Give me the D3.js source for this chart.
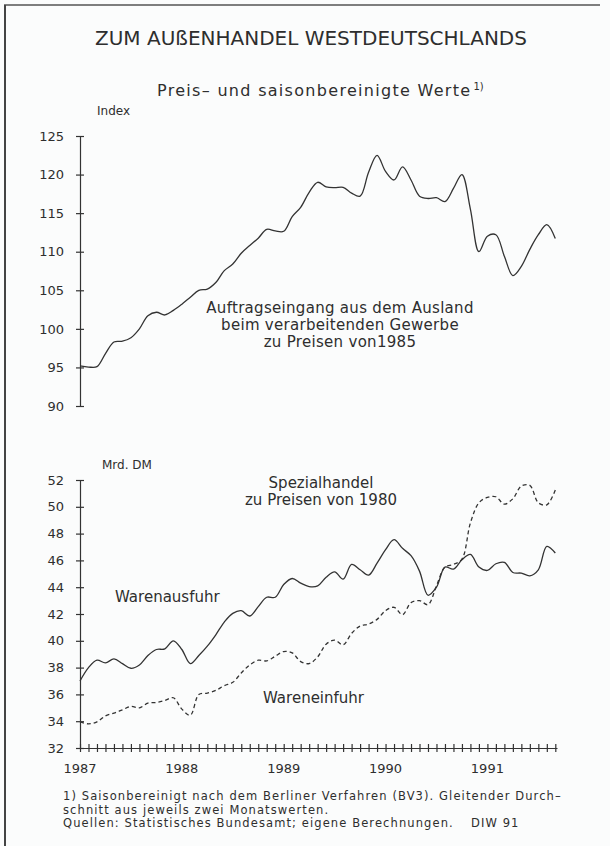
<!DOCTYPE html>
<html>
<head>
<meta charset="utf-8">
<script src="https://cdn.jsdelivr.net/npm/d3@7"></script>
<style>
  body { margin: 0; background: #fbfcfc; }
  svg { display: block; }
  text { font-family: "DejaVu Sans", sans-serif; fill: #2e2e2e; }
  .axis path, .axis line { stroke: #333; stroke-width: 1.2; }
  .line { fill: none; stroke: #333; stroke-width: 1.3; }
</style>
</head>
<body>
<svg width="610" height="846"></svg>
<script>
// monthly values, jan 1987 - sep 1991
const auftrag = [
  95.2, 95.05, 95.1, 96.8, 98.3, 98.4, 98.85, 100.0, 101.7, 102.15, 101.8, 102.4,
  103.2, 104.1, 105.0, 105.15, 106.0, 107.55, 108.4, 109.8, 110.8, 111.75, 112.9, 112.7,
  112.65, 114.55, 115.75, 117.7, 119.0, 118.4, 118.3, 118.35, 117.6, 117.2, 120.3, 122.5,
  120.4, 119.3, 121.0, 119.3, 117.2, 116.9, 117.0, 116.5, 118.2, 120.0, 115.5, 110.0,
  112.0, 112.2, 109.4, 106.9, 108.1, 110.3, 112.2, 113.5, 111.7
];
const ausfuhr = [
  37.0, 38.0, 38.55, 38.35, 38.65, 38.3, 37.95, 38.2, 38.9, 39.35, 39.4, 40.0,
  39.35, 38.3, 38.9, 39.6, 40.45, 41.4, 42.05, 42.25, 41.85, 42.55, 43.25, 43.25,
  44.2, 44.65, 44.3, 44.05, 44.1, 44.75, 45.15, 44.6, 45.7, 45.3, 44.9, 45.8,
  46.8, 47.55, 46.9, 46.35, 45.2, 43.4, 44.0, 45.5, 45.35, 46.05, 46.45, 45.5,
  45.25, 45.75, 45.85, 45.1, 45.05, 44.85, 45.3, 47.05, 46.55
];
const einfuhr = [
  33.95, 33.8, 33.95, 34.4, 34.6, 34.85, 35.1, 35.0, 35.35, 35.4, 35.55, 35.75,
  34.9, 34.45, 36.0, 36.1, 36.3, 36.65, 36.9, 37.6, 38.2, 38.55, 38.5, 38.85,
  39.2, 39.1, 38.45, 38.3, 38.8, 39.75, 40.05, 39.7, 40.55, 41.1, 41.25, 41.6,
  42.25, 42.5, 41.95, 42.85, 43.0, 42.7, 44.1, 45.5, 45.7, 46.1, 48.8, 50.3,
  50.7, 50.75, 50.2, 50.6, 51.55, 51.6, 50.3, 50.15, 51.25
];
const years = ["1987", "1988", "1989", "1990", "1991"];
const topTicks = [90, 95, 100, 105, 110, 115, 120, 125];
const bottomTicks = [32, 34, 36, 38, 40, 42, 44, 46, 48, 50, 52];

const svg = d3.select("svg");

// page border of the scan
svg.append("line").attr("x1", 4).attr("x2", 600).attr("y1", 5).attr("y2", 5)
  .attr("stroke", "#555").attr("stroke-width", 1.5);
svg.append("line").attr("x1", 5).attr("x2", 5).attr("y1", 5).attr("y2", 846)
  .attr("stroke", "#444").attr("stroke-width", 2);

// scales
const x = d3.scaleLinear().domain([0, 56.2]).range([80, 557]);
const yTop = d3.scaleLinear().domain([90, 125]).range([406, 136]);
const yBot = d3.scaleLinear().domain([32, 52]).range([748, 480]);

const line = (yScale) => d3.line()
  .curve(d3.curveCatmullRom.alpha(0.5))
  .x((d, i) => x(i))
  .y(d => yScale(d));

// titles
svg.append("text").attr("x", 311).attr("y", 45).attr("text-anchor", "middle")
  .style("font-size", "20px").text("ZUM AUßENHANDEL WESTDEUTSCHLANDS");
const sub = svg.append("text").attr("x", 157).attr("y", 96)
  .style("font-size", "16px").style("letter-spacing", "1.3px");
sub.append("tspan").text("Preis– und saisonbereinigte Werte");
sub.append("tspan").attr("dx", 2).attr("dy", -6).style("font-size", "10px")
  .style("letter-spacing", "0px").text("1)");

// top chart
svg.append("text").attr("x", 97).attr("y", 115).style("font-size", "12px").text("Index");

const leftTop = svg.append("g").attr("class", "axis")
  .attr("transform", "translate(80,0)")
  .call(d3.axisLeft(yTop).tickValues(topTicks).tickSize(4).tickSizeOuter(0).tickPadding(12));
leftTop.selectAll(".tick line").attr("x1", 4);
leftTop.selectAll(".tick text").style("font-size", "13px").attr("fill", "#2e2e2e");

svg.append("path").datum(auftrag).attr("class", "line").attr("d", line(yTop));

const noteTop = svg.append("text").attr("text-anchor", "middle")
  .style("font-size", "15px").style("letter-spacing", "0.3px");
["Auftragseingang aus dem Ausland", "beim verarbeitenden Gewerbe", "zu Preisen von1985"]
  .forEach((t, i) => noteTop.append("tspan").attr("x", 340).attr("y", 313 + i * 17).text(t));

// bottom chart
svg.append("text").attr("x", 102).attr("y", 469).style("font-size", "12px").text("Mrd. DM");

const leftBot = svg.append("g").attr("class", "axis")
  .attr("transform", "translate(80,0)")
  .call(d3.axisLeft(yBot).tickValues(bottomTicks).tickSize(4).tickSizeOuter(0).tickPadding(12));
leftBot.selectAll(".tick line").attr("x1", 4);
leftBot.selectAll(".tick text").style("font-size", "13px").attr("fill", "#2e2e2e");

const bottom = svg.append("g").attr("class", "axis")
  .attr("transform", "translate(0,748)")
  .call(d3.axisBottom(x).tickValues(d3.range(0, 57)).tickFormat("").tickSize(4).tickSizeOuter(0));
bottom.selectAll(".tick line").attr("y1", -4);

svg.selectAll(".year").data(years).enter().append("text")
  .attr("class", "year")
  .attr("x", (d, i) => x(i * 12))
  .attr("y", 773)
  .attr("text-anchor", "middle")
  .style("font-size", "13px")
  .text(d => d);

svg.append("path").datum(ausfuhr).attr("class", "line").attr("d", line(yBot));
svg.append("path").datum(einfuhr).attr("class", "line")
  .attr("stroke-dasharray", "4,3").attr("d", line(yBot));

const noteBot = svg.append("text").attr("text-anchor", "middle").style("font-size", "15px");
["Spezialhandel", "zu Preisen von 1980"]
  .forEach((t, i) => noteBot.append("tspan").attr("x", 321).attr("y", 488 + i * 17).text(t));
svg.append("text").attr("x", 115).attr("y", 602).style("font-size", "15px").text("Warenausfuhr");
svg.append("text").attr("x", 263).attr("y", 703).style("font-size", "15px").text("Wareneinfuhr");

// footnote
const foot = [
  "1) Saisonbereinigt nach dem Berliner Verfahren (BV3). Gleitender Durch–",
  "schnitt aus jeweils zwei Monatswerten.",
  "Quellen: Statistisches Bundesamt; eigene Berechnungen."
];
foot.forEach((t, i) => svg.append("text").attr("x", 63).attr("y", 800 + i * 13.5)
  .style("font-size", "11.5px").style("letter-spacing", "1.1px").text(t));
svg.append("text").attr("x", 471).attr("y", 827).style("font-size", "11.5px")
  .style("letter-spacing", "1.1px").text("DIW 91");
</script>
</body>
</html>
